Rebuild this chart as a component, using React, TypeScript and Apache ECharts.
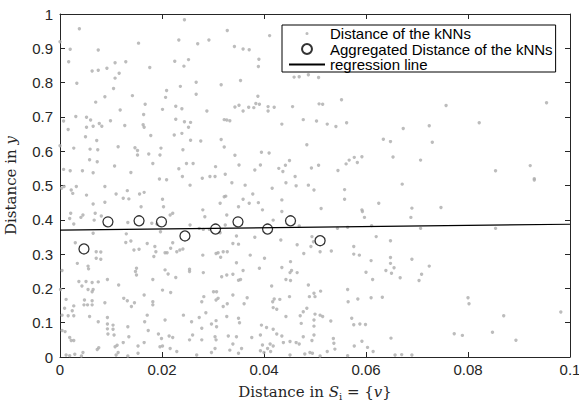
import React, { useEffect, useRef } from "react";
import * as echarts from "echarts";

const xTicks = [0, 0.02, 0.04, 0.06, 0.08, 0.1];
const yTicks = [0, 0.1, 0.2, 0.3, 0.4, 0.5, 0.6, 0.7, 0.8, 0.9, 1];

const seriesNames = [
  "Distance of the kNNs",
  "Aggregated Distance of the kNNs",
  "regression line",
];

const knnPoints: [number, number][] = [
  [0.0244,0.983],[0.0038,0.957],[0.0328,0.952],[0.0411,0.937],[0.0154,0.915],[0.0233,0.924],[0.0270,0.913],[0.0292,0.924],[0.0020,0.897],[0.0075,0.895],[0.0000,0.919],[0.0342,0.905],[0.0359,0.898],[0.0371,0.896],[0.0390,0.868],[0.0389,0.847],[0.0017,0.861],[0.0225,0.862],[0.0252,0.867],[0.0108,0.858],[0.0129,0.861],[0.0243,0.848],[0.0176,0.844],[0.0063,0.834],[0.0075,0.836],[0.0092,0.842],[0.0116,0.827],[0.0108,0.813],[0.0033,0.798],[0.0267,0.801],[0.0236,0.789],[0.0316,0.794],[0.0354,0.806],[0.0209,0.777],[0.0105,0.783],[0.0207,0.757],[0.0142,0.762],[0.0088,0.759],[0.0267,0.766],[0.0070,0.743],[0.0167,0.737],[0.0388,0.760],[0.0391,0.737],[0.0201,0.722],[0.0118,0.720],[0.0227,0.731],[0.0239,0.724],[0.0288,0.717],[0.0343,0.729],[0.0351,0.734],[0.0359,0.717],[0.0370,0.728],[0.0380,0.727],[0.0384,0.739],[0.0408,0.730],[0.0420,0.728],[0.0408,0.717],[0.0456,0.730],[0.0508,0.738],[0.0515,0.737],[0.0031,0.701],[0.0052,0.699],[0.0060,0.691],[0.0007,0.688],[0.0099,0.689],[0.0077,0.681],[0.0082,0.673],[0.0065,0.673],[0.0052,0.670],[0.0016,0.663],[0.0127,0.675],[0.0164,0.707],[0.0163,0.677],[0.0165,0.670],[0.0227,0.693],[0.0244,0.686],[0.0256,0.684],[0.0252,0.670],[0.0322,0.692],[0.0327,0.691],[0.0333,0.689],[0.0435,0.679],[0.0477,0.692],[0.0503,0.688],[0.0239,0.652],[0.0224,0.647],[0.0178,0.646],[0.0050,0.642],[0.0072,0.631],[0.0256,0.632],[0.0276,0.630],[0.0316,0.634],[0.0484,0.619],[0.0027,0.609],[0.0059,0.606],[0.0074,0.604],[0.0114,0.613],[0.0147,0.610],[0.0152,0.602],[0.0152,0.589],[0.0174,0.592],[0.0198,0.609],[0.0196,0.589],[0.0241,0.604],[0.0322,0.612],[0.0395,0.597],[0.0410,0.595],[0.0343,0.588],[0.0058,0.575],[0.0073,0.569],[0.0107,0.557],[0.0182,0.564],[0.0233,0.549],[0.0248,0.564],[0.0261,0.564],[0.0305,0.555],[0.0351,0.560],[0.0382,0.545],[0.0393,0.560],[0.0429,0.550],[0.0437,0.541],[0.0442,0.559],[0.0450,0.573],[0.0493,0.551],[0.0507,0.559],[0.0000,0.616],[0.0007,0.547],[0.0020,0.543],[0.0044,0.543],[0.0065,0.537],[0.0139,0.538],[0.0195,0.519],[0.0209,0.517],[0.0240,0.526],[0.0279,0.521],[0.0294,0.526],[0.0304,0.526],[0.0324,0.533],[0.0461,0.526],[0.0459,0.816],[0.0469,0.817],[0.0487,0.823],[0.0507,0.815],
  [0.0552,0.750],[0.0757,0.733],[0.0954,0.741],[0.0524,0.679],[0.0541,0.672],[0.0562,0.683],[0.0822,0.683],[0.0673,0.666],[0.0724,0.674],[0.0634,0.635],[0.0648,0.628],[0.0730,0.626],[0.0653,0.583],[0.0577,0.582],[0.0567,0.574],[0.0592,0.584],[0.0583,0.567],[0.0561,0.563],[0.0707,0.574],[0.0545,0.544],[0.0854,0.543],[0.0922,0.558],[0.0930,0.520],
  [0.0003,0.492],[0.0008,0.497],[0.0022,0.487],[0.0025,0.477],[0.0032,0.497],[0.0052,0.472],[0.0088,0.497],[0.0110,0.475],[0.0132,0.485],[0.0124,0.463],[0.0135,0.461],[0.0156,0.475],[0.0165,0.480],[0.0065,0.446],[0.0088,0.451],[0.0159,0.438],[0.0021,0.419],[0.0019,0.404],[0.0027,0.388],[0.0045,0.414],[0.0041,0.407],[0.0069,0.419],[0.0081,0.411],[0.0067,0.399],[0.0133,0.392],[0.0065,0.361],[0.0130,0.359],[0.0030,0.333],[0.0139,0.338],[0.0129,0.334],[0.0145,0.312],[0.0155,0.314],[0.0171,0.331],[0.0071,0.307],[0.0080,0.306],[0.0071,0.288],[0.0080,0.285],[0.0034,0.273],[0.0055,0.265],[0.0056,0.257],[0.0150,0.259],[0.0148,0.249],[0.0150,0.239],[0.0004,0.252],[0.0037,0.220],[0.0051,0.220],[0.0063,0.217],[0.0075,0.219],[0.0093,0.226],[0.0115,0.210],[0.0043,0.207],[0.0055,0.197],[0.0065,0.197],[0.0063,0.190],[0.0001,0.197],[0.0012,0.168],[0.0048,0.166],[0.0063,0.164],[0.0047,0.152],[0.0054,0.152],[0.0063,0.152],[0.0088,0.158],[0.0125,0.171],[0.0132,0.164],[0.0146,0.158],[0.0140,0.147],[0.0165,0.181],[0.0027,0.149],[0.0024,0.135],[0.0009,0.142],[0.0004,0.122],[0.0016,0.120],[0.0027,0.120],[0.0058,0.118],[0.0093,0.115],[0.0171,0.122],[0.0166,0.103],[0.0075,0.103],[0.0093,0.096],[0.0104,0.093],[0.0093,0.082],[0.0104,0.081],[0.0133,0.088],[0.0173,0.077],[0.0004,0.077],[0.0010,0.074],[0.0094,0.067],[0.0106,0.064],[0.0135,0.059],[0.0019,0.057],[0.0022,0.048],[0.0027,0.048],[0.0124,0.042],[0.0112,0.034],[0.0108,0.030],[0.0076,0.027],[0.0073,0.022],[0.0153,0.032],[0.0165,0.042],[0.0045,0.013],[0.0029,0.008],[0.0012,0.006],[0.0019,0.004],[0.0042,0.003],[0.0114,0.013],[0.0110,0.006],[0.0133,0.003],[0.0153,0.011],
  [0.0255,0.501],[0.0337,0.508],[0.0201,0.460],[0.0203,0.438],[0.0216,0.414],[0.0221,0.419],[0.0280,0.429],[0.0284,0.409],[0.0314,0.448],[0.0322,0.467],[0.0325,0.469],[0.0327,0.414],[0.0350,0.438],[0.0180,0.390],[0.0190,0.388],[0.0197,0.365],[0.0255,0.385],[0.0273,0.375],[0.0281,0.372],[0.0293,0.372],[0.0314,0.362],[0.0324,0.385],[0.0346,0.353],[0.0221,0.333],[0.0217,0.317],[0.0206,0.304],[0.0210,0.304],[0.0186,0.322],[0.0188,0.307],[0.0184,0.293],[0.0229,0.307],[0.0235,0.312],[0.0241,0.315],[0.0280,0.297],[0.0306,0.302],[0.0310,0.304],[0.0315,0.291],[0.0320,0.307],[0.0328,0.307],[0.0339,0.331],[0.0350,0.329],[0.0346,0.275],[0.0206,0.254],[0.0212,0.242],[0.0227,0.232],[0.0254,0.256],[0.0254,0.249],[0.0281,0.246],[0.0317,0.234],[0.0327,0.239],[0.0339,0.241],[0.0350,0.224],[0.0182,0.226],[0.0201,0.195],[0.0217,0.188],[0.0301,0.190],[0.0307,0.190],[0.0310,0.171],[0.0282,0.176],[0.0278,0.161],[0.0306,0.166],[0.0320,0.147],[0.0328,0.155],[0.0339,0.181],[0.0182,0.161],[0.0182,0.152],[0.0206,0.108],[0.0242,0.122],[0.0258,0.103],[0.0273,0.115],[0.0286,0.129],[0.0297,0.096],[0.0306,0.106],[0.0307,0.088],[0.0278,0.084],[0.0327,0.118],[0.0350,0.113],[0.0352,0.100],[0.0193,0.067],[0.0199,0.054],[0.0214,0.061],[0.0221,0.057],[0.0260,0.064],[0.0254,0.050],[0.0278,0.050],[0.0304,0.059],[0.0306,0.050],[0.0330,0.061],[0.0346,0.059],[0.0339,0.038],[0.0196,0.030],[0.0201,0.032],[0.0216,0.025],[0.0229,0.016],[0.0268,0.006],[0.0297,0.013],[0.0304,0.025],[0.0333,0.020],[0.0350,0.011],
  [0.0363,0.501],[0.0378,0.475],[0.0416,0.492],[0.0443,0.508],[0.0463,0.499],[0.0487,0.501],[0.0498,0.487],[0.0359,0.460],[0.0371,0.448],[0.0389,0.450],[0.0435,0.458],[0.0397,0.429],[0.0435,0.424],[0.0512,0.433],[0.0418,0.399],[0.0469,0.382],[0.0382,0.349],[0.0433,0.341],[0.0465,0.327],[0.0494,0.351],[0.0497,0.336],[0.0492,0.322],[0.0510,0.307],[0.0478,0.302],[0.0373,0.297],[0.0401,0.288],[0.0452,0.278],[0.0435,0.261],[0.0454,0.252],[0.0451,0.246],[0.0465,0.246],[0.0391,0.259],[0.0359,0.252],[0.0354,0.226],[0.0443,0.226],[0.0452,0.223],[0.0487,0.210],[0.0511,0.192],[0.0498,0.186],[0.0500,0.176],[0.0489,0.176],[0.0415,0.207],[0.0367,0.173],[0.0361,0.155],[0.0420,0.169],[0.0417,0.161],[0.0431,0.168],[0.0450,0.176],[0.0418,0.144],[0.0425,0.139],[0.0484,0.142],[0.0477,0.132],[0.0471,0.120],[0.0500,0.125],[0.0510,0.122],[0.0515,0.118],[0.0498,0.108],[0.0443,0.118],[0.0473,0.098],[0.0395,0.093],[0.0405,0.086],[0.0418,0.081],[0.0425,0.067],[0.0435,0.061],[0.0393,0.064],[0.0376,0.057],[0.0477,0.059],[0.0498,0.064],[0.0498,0.090],[0.0494,0.048],[0.0463,0.042],[0.0451,0.045],[0.0469,0.038],[0.0438,0.042],[0.0412,0.038],[0.0418,0.032],[0.0397,0.035],[0.0393,0.018],[0.0407,0.025],[0.0413,0.016],[0.0356,0.025],[0.0480,0.009],[0.0490,0.013],[0.0495,0.011],[0.0510,0.003],[0.0451,0.006],[0.0524,0.016],[0.0400,0.013],
  [0.0558,0.488],[0.0558,0.460],[0.0671,0.504],[0.0930,0.516],[0.0592,0.429],[0.0593,0.424],[0.0597,0.407],[0.0625,0.448],[0.0690,0.434],[0.0688,0.407],[0.0747,0.436],[0.0611,0.383],[0.0564,0.378],[0.0544,0.375],[0.0707,0.375],[0.0854,0.375],[0.0620,0.351],[0.0648,0.339],[0.0576,0.322],[0.0576,0.300],[0.0587,0.297],[0.0532,0.309],[0.0610,0.281],[0.0690,0.285],[0.0648,0.290],[0.0648,0.273],[0.0655,0.260],[0.0639,0.252],[0.0650,0.244],[0.0667,0.231],[0.0600,0.247],[0.0724,0.265],[0.0709,0.241],[0.0704,0.223],[0.0613,0.226],[0.0564,0.197],[0.0565,0.161],[0.0584,0.169],[0.0610,0.173],[0.0632,0.174],[0.0800,0.173],[0.0802,0.155],[0.0870,0.120],[0.0982,0.131],[0.0531,0.105],[0.0572,0.113],[0.0576,0.094],[0.0588,0.096],[0.0599,0.095],[0.0773,0.068],[0.0789,0.063],[0.0848,0.072],[0.0894,0.049],[0.0649,0.055],[0.0592,0.046],[0.0603,0.028],[0.0577,0.032],[0.0614,0.016],[0.0564,0.004],[0.0657,0.006],[0.0670,0.007],[0.0690,0.006],[0.0536,0.054],[0.0537,0.040],[0.0539,0.023],
];

const aggX = [0.0047, 0.0094, 0.0155, 0.0199, 0.0245, 0.0305, 0.0349, 0.0407, 0.0452, 0.0510];
const aggY = [0.315, 0.394, 0.397, 0.394, 0.353, 0.373, 0.394, 0.373, 0.397, 0.339];

const regX = [0, 0.1];
const regY = [0.37, 0.387];

const AXIS_COLOR = "#262626";
const SANS = "'Liberation Sans', Arial, Helvetica, sans-serif";
const SERIF = "'DejaVu Serif', serif";

const fmt = (v: number) => String(+v.toFixed(3));

export default function App() {
  const ref = useRef<HTMLDivElement>(null);

  useEffect(() => {
    if (!ref.current) return;
    const chart = echarts.init(ref.current, null, { renderer: "svg" });

    const axisLine = { show: true, onZero: false, lineStyle: { color: AXIS_COLOR, width: 1 } };
    const axisTick = { show: true, inside: true, length: 5, lineStyle: { color: AXIS_COLOR, width: 1 } };

    const nameRich = {
      it: { fontFamily: SERIF, fontSize: 15, fontStyle: "italic", color: AXIS_COLOR, lineHeight: 20 },
      sub: { fontFamily: SERIF, fontSize: 10, color: AXIS_COLOR, lineHeight: 10, verticalAlign: "bottom" },
    };

    const option: any = {
      animation: false,
      backgroundColor: "#fff",
      grid: { left: 60, right: 9, top: 14, bottom: 45, containLabel: false, outerBoundsMode: "none" },
      legend: {
        orient: "vertical",
        left: 282,
        top: 25,
        itemWidth: 36,
        itemHeight: 14,
        itemGap: 0,
        padding: [1, 3, 0, 6],
        backgroundColor: "#fff",
        borderColor: "#000",
        borderWidth: 1,
        borderRadius: 0,
        textStyle: { fontFamily: SANS, fontSize: 15, color: "#000" },
        data: [
          { name: seriesNames[0], icon: "path://M0,0M20,20M10,7.8A2.2,2.2,0,1,1,10,12.2A2.2,2.2,0,1,1,10,7.8Z" },
          { name: seriesNames[1], icon: "path://M0,0M20,20M10,2.9A7.1,7.1,0,1,1,10,17.1A7.1,7.1,0,1,1,10,2.9Z" },
          { name: seriesNames[2], itemStyle: { color: "rgba(0,0,0,0)", borderWidth: 0, opacity: 0 } },
        ],
      },
      xAxis: [
        {
          type: "value",
          position: "bottom",
          min: xTicks[0],
          max: xTicks[xTicks.length - 1],
          interval: xTicks[1] - xTicks[0],
          axisLine,
          axisTick,
          splitLine: { show: false },
          axisLabel: { margin: 5, fontFamily: SANS, fontSize: 15, color: AXIS_COLOR, formatter: fmt },
          name: "Distance in {it|S}{sub|i} = {{it|v}}",
          nameLocation: "middle",
          nameGap: 20,
          nameTextStyle: { fontFamily: SERIF, fontSize: 15, color: AXIS_COLOR, lineHeight: 20, rich: nameRich },
        },
        {
          type: "value",
          position: "top",
          min: xTicks[0],
          max: xTicks[xTicks.length - 1],
          interval: xTicks[1] - xTicks[0],
          axisLine,
          axisTick,
          splitLine: { show: false },
          axisLabel: { show: false },
        },
      ],
      yAxis: [
        {
          type: "value",
          position: "left",
          min: yTicks[0],
          max: yTicks[yTicks.length - 1],
          interval: 0.1,
          axisLine,
          axisTick,
          splitLine: { show: false },
          axisLabel: { margin: 7, fontFamily: SANS, fontSize: 15, color: AXIS_COLOR, formatter: fmt },
          name: "Distance in {it|y}",
          nameLocation: "middle",
          nameRotate: 90,
          nameGap: 32,
          nameTextStyle: { fontFamily: SERIF, fontSize: 15, color: AXIS_COLOR, lineHeight: 20, rich: nameRich },
        },
        {
          type: "value",
          position: "right",
          min: yTicks[0],
          max: yTicks[yTicks.length - 1],
          interval: 0.1,
          axisLine,
          axisTick,
          splitLine: { show: false },
          axisLabel: { show: false },
        },
      ],
      series: [
        {
          name: seriesNames[0],
          type: "scatter",
          xAxisIndex: 0,
          yAxisIndex: 0,
          symbol: "circle",
          symbolSize: 3.4,
          itemStyle: { color: "#ababab" },
          data: knnPoints,
          z: 1,
          clip: false,
        },
        {
          name: seriesNames[2],
          type: "line",
          xAxisIndex: 0,
          yAxisIndex: 0,
          symbol: "none",
          lineStyle: { color: "#000", width: 1.2 },
          itemStyle: { color: "#000" },
          data: regX.map((x, i) => [x, regY[i]]),
          z: 2,
        },
        {
          name: seriesNames[1],
          type: "scatter",
          xAxisIndex: 0,
          yAxisIndex: 0,
          symbol: "circle",
          symbolSize: 10,
          itemStyle: { color: "rgba(0,0,0,0)", borderColor: "#000", borderWidth: 1.3 },
          data: aggX.map((x, i) => [x, aggY[i]]),
          z: 3,
        },
      ],
    };

    chart.setOption(option);
    return () => chart.dispose();
  }, []);

  return (
    <div
      ref={ref}
      style={{ position: "fixed", left: 0, top: 0, width: 579, height: 402, background: "#fff" }}
    />
  );
}
